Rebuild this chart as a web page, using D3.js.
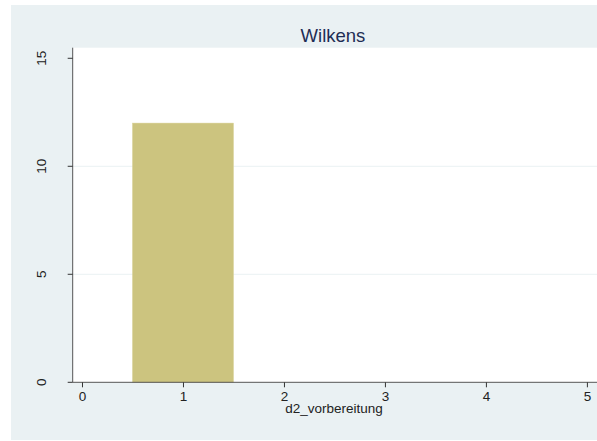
<!DOCTYPE html>
<html><head><meta charset="utf-8">
<script src="https://cdn.jsdelivr.net/npm/d3@7"></script>
<style>body{margin:0;background:#fff}svg{display:block}</style>
</head><body>
<svg id="c" width="597" height="441"></svg>
<script>
const title = "Wilkens";
const xLabel = "d2_vorbereitung";
const binStarts = [0.5];
const binEnds = [1.5];
const counts = [12];
const xTicks = [0,1,2,3,4,5];
const yTicks = [0,5,10,15];

const svg = d3.select("#c");
const font = "'Liberation Sans', Arial, sans-serif";
svg.append("rect").attr("x",11).attr("y",5).attr("width",586).attr("height",435).attr("fill","#EAF1F3");
const L=72.7, R=597, T=47.7, B=382.3;
svg.append("rect").attr("x",L).attr("y",T).attr("width",R-L).attr("height",B-T).attr("fill","#fff");
const x = d3.scaleLinear().domain([-0.092,5.1]).range([L,R]);
const y = d3.scaleLinear().domain([0,15.49]).range([B,T]);

svg.append("g").selectAll("line").data(yTicks.filter(d=>d>0&&d<15)).join("line")
  .attr("x1",L).attr("x2",R).attr("y1",d=>y(d)).attr("y2",d=>y(d))
  .attr("stroke","#EAF1F3").attr("stroke-width",1);

svg.append("g").selectAll("rect").data(counts).join("rect")
  .attr("x",(d,i)=>x(binStarts[i])).attr("width",(d,i)=>x(binEnds[i])-x(binStarts[i]))
  .attr("y",d=>y(d)).attr("height",d=>B-y(d))
  .attr("fill","#CCC47F").attr("stroke","#D8D198").attr("stroke-width",0.5);

const xa = svg.append("g").attr("transform",`translate(0,${B})`)
  .call(d3.axisBottom(x).tickValues(xTicks).tickSize(5).tickPadding(4).tickFormat(d3.format("d")));
xa.select(".domain").attr("stroke","#555").attr("d",`M${L},0H${R}`);
xa.selectAll("line").attr("stroke","#333");
xa.selectAll("text").attr("font-family",font).attr("font-size",13.5).attr("fill","#222");

const ya = svg.append("g").attr("transform",`translate(${L},0)`)
  .call(d3.axisLeft(y).tickValues(yTicks).tickSize(5).tickFormat(d3.format("d")));
ya.select(".domain").attr("stroke","#555").attr("d",`M0,${T}V${B}`);
ya.selectAll(".tick").attr("transform",null);
ya.selectAll(".tick line").attr("stroke","#333").attr("y1",d=>y(d)).attr("y2",d=>y(d));
ya.selectAll(".tick text").attr("font-family",font).attr("font-size",13.5).attr("fill","#222")
  .attr("text-anchor","middle").attr("x",0).attr("y",0).attr("dy","0.35em")
  .attr("transform",d=>`translate(-31,${y(d)}) rotate(-90)`);

svg.append("text").attr("x",333).attr("y",42).attr("text-anchor","middle")
  .attr("font-family",font).attr("font-size",18.5).attr("fill","#1E2D55").text(title);
svg.append("text").attr("x",334).attr("y",413).attr("text-anchor","middle")
  .attr("font-family",font).attr("font-size",13.5).attr("fill","#222").text(xLabel);
</script>
</body></html>
